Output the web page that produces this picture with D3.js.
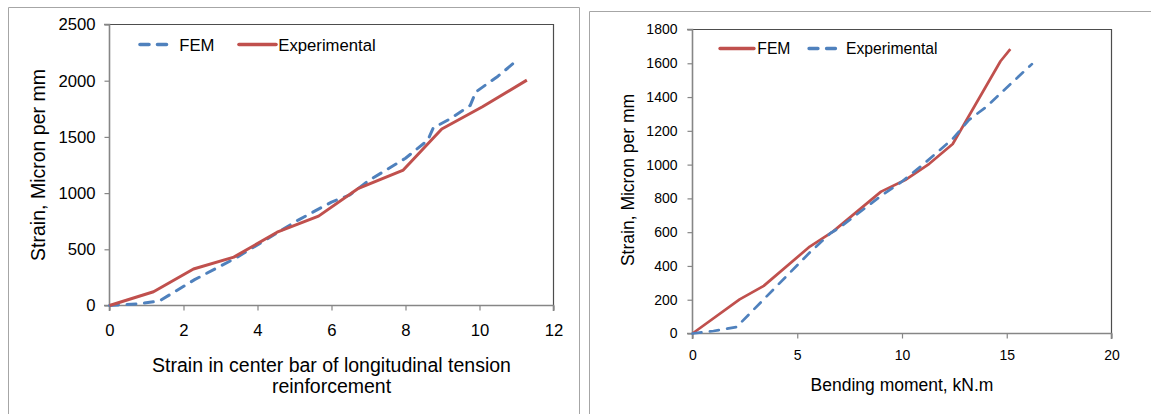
<!DOCTYPE html>
<html>
<head>
<meta charset="utf-8">
<script src="https://cdn.jsdelivr.net/npm/d3@7"></script>
<style>
  html, body { margin: 0; padding: 0; background: #ffffff; }
  svg { display: block; font-family: "Liberation Sans", Arial, sans-serif; }
</style>
</head>
<body>
<svg id="chart" width="1151" height="414"></svg>
<script>
// ---------- Left chart data ----------
const leftXTicks = [0, 2, 4, 6, 8, 10, 12];
const leftYTicks = [0, 500, 1000, 1500, 2000, 2500];
const leftFEM = [[0,0],[0.8,15],[1.35,40],[2.3,230],[3.4,420],[4.5,640],[5.1,760],[6.0,920],[6.5,985],[7.0,1110],[8.0,1310],[8.6,1470],[8.75,1580],[9.2,1660],[9.75,1780],[9.9,1900],[10.5,2040],[10.9,2150]];
const leftExp = [[0,0],[1.19,122],[2.27,325],[3.36,430],[4.53,652],[5.65,795],[6.73,1043],[7.94,1205],[8.98,1570],[10.08,1768],[11.28,2005]];
const leftLegend = ["FEM", "Experimental"];
const leftXTitle = ["Strain in center bar of longitudinal tension", "reinforcement"];
const leftYTitle = "Strain, Micron per mm";

// ---------- Right chart data ----------
const rightXTicks = [0, 5, 10, 15, 20];
const rightYTicks = [0, 200, 400, 600, 800, 1000, 1200, 1400, 1600, 1800];
const rightFEM = [[0,0],[2.25,202],[3.4,282],[5.6,515],[6.7,603],[9.0,840],[10.2,912],[11.3,1005],[12.42,1122],[14.7,1612],[15.17,1684]];
const rightExp = [[0,0],[1.0,15],[2.1,38],[5.6,480],[6.6,595],[7.0,625],[9.0,815],[10.0,900],[11.0,1000],[12.4,1150],[13.2,1265],[14.0,1340],[16.2,1595]];
const rightLegend = ["FEM", "Experimental"];
const rightXTitle = "Bending moment, kN.m";
const rightYTitle = "Strain, Micron per mm";

const RED = "#C0504D", BLUE = "#4F81BD";
const svg = d3.select("#chart");

// panel borders
svg.append("path").attr("d", "M8.5,414 V7.5 H579.5 V414")
  .attr("fill", "none").attr("stroke", "#a6a6a6").attr("stroke-width", 1);
svg.append("path").attr("d", "M589.5,414 V11.5 H1151")
  .attr("fill", "none").attr("stroke", "#a6a6a6").attr("stroke-width", 1);

function drawChart(cfg) {
  const x = d3.scaleLinear().domain(cfg.xDomain).range([cfg.left, cfg.right]);
  const y = d3.scaleLinear().domain(cfg.yDomain).range([cfg.bottom, cfg.top]);
  const g = svg.append("g");

  // plot border (top/right)
  g.append("path")
    .attr("d", `M${cfg.left},${cfg.top} H${cfg.right} V${cfg.bottom}`)
    .attr("fill", "none").attr("stroke", "#4d4d4d").attr("stroke-width", 1.2);

  // axes
  const xAxis = d3.axisBottom(x).tickValues(cfg.xTicks).tickSize(5).tickPadding(cfg.xPad).tickFormat(d3.format("d"));
  const yAxis = d3.axisLeft(y).tickValues(cfg.yTicks).tickSize(5).tickPadding(cfg.yPad).tickFormat(d3.format("d"));
  const gx = g.append("g").attr("transform", `translate(0,${cfg.bottom})`).call(xAxis);
  const gy = g.append("g").attr("transform", `translate(${cfg.left},0)`).call(yAxis);
  [gx, gy].forEach(a => {
    a.select(".domain").attr("stroke", "#868686").attr("stroke-width", 1.6);
    a.selectAll(".tick line").attr("stroke", "#868686").attr("stroke-width", 1.2);
    a.selectAll(".tick text").attr("fill", "#000").style("font-size", cfg.tickFont + "px")
      .style("font-family", "'Liberation Sans', Arial, sans-serif");
  });
  gx.select(".domain").attr("d", `M${cfg.left},5.5V0H${cfg.right}V5.5`);
  gy.select(".domain").attr("d", `M-5.5,${cfg.top}H0V${cfg.bottom}H-5.5`);

  // series
  const line = d3.line().x(d => x(d[0])).y(d => y(d[1]));
  cfg.series.forEach(s => {
    g.append("path").datum(s.data)
      .attr("fill", "none").attr("stroke", s.color).attr("stroke-width", cfg.lineW)
      .attr("stroke-linejoin", "round")
      .attr("stroke-linecap", s.dash ? "round" : "butt")
      .attr("stroke-dasharray", s.dash ? "9,8.5" : null)
      .attr("d", line);
  });

  // legend
  cfg.legend.forEach((L, i) => {
    const s = cfg.series[i];
    g.append("line").attr("x1", L.x1).attr("x2", L.x2).attr("y1", cfg.legendY).attr("y2", cfg.legendY)
      .attr("stroke", s.color).attr("stroke-width", cfg.lineW + 0.6)
      .attr("stroke-linecap", "round")
      .attr("stroke-dasharray", s.dash ? "9,8.5" : null);
    g.append("text").attr("x", L.tx).attr("y", cfg.legendY).attr("dy", "0.36em")
      .style("font-size", cfg.legendFont + "px").attr("fill", "#000").text(L.label);
  });

  // y title
  g.append("text")
    .attr("transform", `translate(${cfg.yTitleX},${cfg.yTitleY}) rotate(-90)`)
    .attr("text-anchor", "middle").attr("dy", "0.35em")
    .style("font-size", cfg.titleFont + "px").attr("fill", "#000").text(cfg.yTitle);

  // x title
  cfg.xTitle.forEach((t, i) => {
    g.append("text").attr("x", (cfg.left + cfg.right) / 2).attr("y", cfg.xTitleY[i])
      .attr("text-anchor", "middle")
      .style("font-size", cfg.titleFont + "px").attr("fill", "#000").text(t);
  });
}

drawChart({
  left: 109.5, right: 553.5, top: 24.5, bottom: 305.5,
  xDomain: [0, 12], yDomain: [0, 2500],
  xTicks: leftXTicks, yTicks: leftYTicks,
  xPad: 14, yPad: 9, tickFont: 16.7, lineW: 3,
  series: [
    { data: leftFEM, color: BLUE, dash: true },
    { data: leftExp, color: RED, dash: false }
  ],
  legendY: 44.5, legendFont: 16.7,
  legend: [
    { label: leftLegend[0], x1: 140, x2: 171, tx: 179.3 },
    { label: leftLegend[1], x1: 239, x2: 276, tx: 278.3 }
  ],
  yTitle: leftYTitle, yTitleX: 38, yTitleY: 165, titleFont: 19.5,
  xTitle: leftXTitle, xTitleY: [371.5, 393]
});

drawChart({
  left: 692.5, right: 1111.5, top: 29.5, bottom: 333.5,
  xDomain: [0, 20], yDomain: [0, 1800],
  xTicks: rightXTicks, yTicks: rightYTicks,
  xPad: 12, yPad: 10, tickFont: 14, lineW: 2.7,
  series: [
    { data: rightFEM, color: RED, dash: false },
    { data: rightExp, color: BLUE, dash: true }
  ],
  legendY: 48.5, legendFont: 15.7,
  legend: [
    { label: rightLegend[0], x1: 720, x2: 754, tx: 757.3 },
    { label: rightLegend[1], x1: 809, x2: 839, tx: 846 }
  ],
  yTitle: rightYTitle, yTitleX: 628, yTitleY: 180, titleFont: 17.5,
  xTitle: [rightXTitle], xTitleY: [391]
});
</script>
</body>
</html>
